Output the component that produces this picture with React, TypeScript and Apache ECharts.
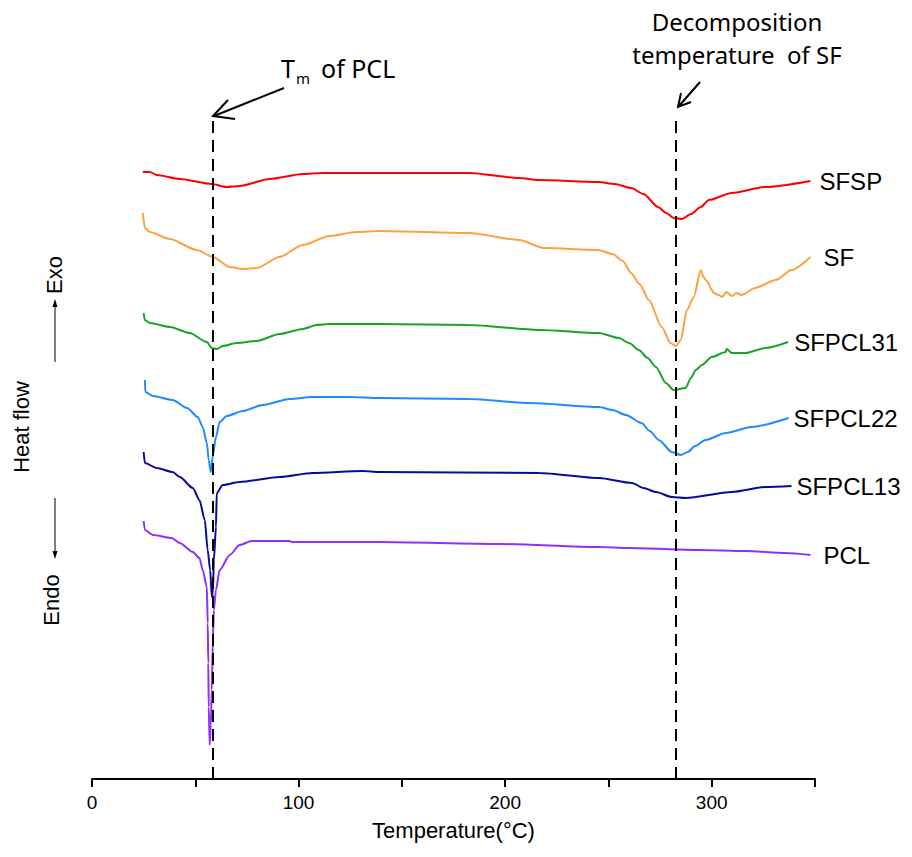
import React, { useEffect, useRef } from "react";
import * as echarts from "echarts";

// Temperature (°C) vs heat flow (arbitrary units, curves offset vertically)
const sfsp: [number, number][] = [
  [24.6, 60.7], [28, 60.7], [31.4, 60.4], [42.5, 60.0], [58, 59.5], [65, 59.2], [71.5, 59.3],
  [86, 60.0], [102, 60.5], [111.6, 60.6], [139, 60.6], [182.6, 60.6], [206.8, 60.1], [216, 59.9],
  [245, 59.7], [253, 59.5], [261, 59.1], [267, 58.5], [274, 57.2], [278, 56.6], [281.6, 56.1],
  [285.5, 56.0], [290, 56.5], [294.7, 57.2], [298.6, 57.9], [309.7, 58.6], [326, 59.2], [347.8, 59.8],
];
const sf: [number, number][] = [
  [24.6, 56.6], [25.6, 55.1], [28, 54.7], [37.7, 54.0], [50.7, 52.9], [58.5, 52.2], [66.7, 51.2],
  [73, 51.0], [79.7, 51.1], [90.8, 52.2], [102, 53.4], [115, 54.3], [128, 54.7], [139, 54.8],
  [182.6, 54.6], [206.8, 53.9], [218.8, 53.1], [245, 52.9], [252, 52.5], [257, 51.8], [261, 50.6],
  [265, 49.5], [269.6, 47.9], [275.8, 45.2], [280, 43.6], [282.6, 43.3], [285, 43.9], [288, 46.9],
  [291.3, 48.2], [294.7, 50.9], [296, 50.2], [298, 49.7], [300, 48.9], [301, 48.6], [303.4, 48.4],
  [305, 48.2], [307, 48.7], [309.7, 48.3], [312, 48.6], [314.5, 48.4], [321, 49.1], [331, 49.9],
  [338.6, 50.9], [347.8, 52.2],
];
const sfpcl31: [number, number][] = [
  [25, 46.6], [25.6, 45.9], [28, 45.6], [37.7, 45.2], [47.3, 44.6], [55.6, 43.7], [58, 43.1],
  [60.4, 43.0], [63.3, 43.3], [70, 43.6], [79.7, 43.8], [90.8, 44.5], [102, 45.0], [108.7, 45.4],
  [115, 45.5], [139, 45.5], [182.6, 45.4], [216.4, 44.9], [245.4, 44.6], [255, 44.1], [260, 43.6],
  [264.7, 42.9], [269, 42.1], [273, 41.2], [277.8, 39.6], [281.6, 38.9], [287.4, 39.1], [289.9, 40.1],
  [292.3, 40.9], [295.2, 41.4], [300, 42.2], [306.8, 42.7], [307.2, 43.0], [309.7, 42.6],
  [316.4, 42.6], [326, 43.1], [337, 43.7],
];
const sfpcl22: [number, number][] = [
  [25.6, 39.9], [25.8, 38.7], [29.5, 38.3], [39, 37.9], [46, 37.1], [51.2, 36.2], [53.6, 35.2],
  [55.6, 33.6], [56.5, 31.9], [57.5, 30.7], [58.5, 32.4], [60, 34.2], [61.8, 35.7], [65.2, 36.3],
  [73, 36.8], [82.6, 37.4], [95.7, 38.0], [106.8, 38.2], [124.6, 38.2], [139, 38.1], [182.6, 38.0],
  [211.6, 37.6], [245.4, 37.2], [252, 36.9], [258.5, 36.4], [266, 35.6], [270, 34.8], [274.4, 33.9],
  [280.7, 32.7], [285, 32.4], [288.4, 32.7], [292, 33.3], [297, 33.9], [306.8, 34.6], [319.3, 35.2],
  [337.2, 36.1],
];
const sfpcl13: [number, number][] = [
  [25, 32.7], [25.6, 31.6], [31.4, 31.1], [39, 30.7], [42.5, 30.2], [48.8, 29.1], [52, 27.9],
  [54.6, 25.9], [56, 22.9], [57.2, 20.9], [58, 18.2], [58.5, 18.6], [59, 21.9], [60, 25.2],
  [60.4, 28.6], [63.3, 29.4], [71.5, 29.7], [90.8, 30.2], [106.8, 30.6], [131, 30.8], [139, 30.7],
  [216.4, 30.6], [245.4, 30.1], [261.4, 29.6], [267, 29.1], [273, 28.7], [280.7, 28.2], [287.4, 28.1],
  [309.7, 28.7], [326, 29.2], [338.6, 29.3],
];
const pcl: [number, number][] = [
  [25, 25.8], [25.6, 24.9], [29.5, 24.4], [38.6, 24.1], [42.5, 23.6], [48.8, 22.7], [52, 22.1],
  [53.6, 20.9], [55.6, 19.2], [56, 15.6], [56.3, 11.6], [56.5, 7.2], [57, 3.4], [57.5, 5.4],
  [58, 8.9], [58.5, 13.9], [59, 16.9], [60, 18.9], [61.8, 20.9], [66.7, 22.4], [71.5, 23.4],
  [77.3, 23.8], [95.7, 23.8], [96.6, 23.7], [139, 23.7], [197, 23.5], [245.4, 23.2], [260, 23.1],
  [293.7, 22.9], [316.4, 22.8], [335.7, 22.6], [347.8, 22.4],
];

const seriesNames = ["SFSP", "SF", "SFPCL31", "SFPCL22", "SFPCL13", "PCL"];
const seriesColors = ["#ff0000", "#ffa040", "#1aa32a", "#1e8cff", "#0a0a99", "#9030ff"];
const labelGaps = [9, 13, 6, 5, 5, 13];
const seriesData = [sfsp, sf, sfpcl31, sfpcl22, sfpcl13, pcl];

const tmPCL = 58.5;
const tDecomp = 282.5;
const markTop = 66.1;
const xTicks = [0, 100, 200, 300];

export default function App() {
  const ref = useRef<HTMLDivElement>(null);
  useEffect(() => {
    if (!ref.current) return;
    document.body.style.margin = "0";
    const chart = echarts.init(ref.current, null, { renderer: "svg" });
    const labelFont = "'Liberation Sans', Arial, sans-serif";
    const annFont = "'Noto Sans', sans-serif";
    const series: any[] = seriesNames.map((name, i) => ({
      name,
      type: "line",
      data: seriesData[i],
      showSymbol: false,
      symbol: "none",
      smooth: 0.25,
      smoothMonotone: "x",
      lineStyle: { color: seriesColors[i], width: 2 },
      itemStyle: { color: seriesColors[i] },
      z: 3,
      endLabel: {
        show: true,
        formatter: name,
        color: "#000",
        fontSize: 24,
        fontFamily: labelFont,
        distance: labelGaps[i],
      },
    }));
    series.push({
      type: "line",
      data: [],
      silent: true,
      z: 4,
      markLine: {
        silent: true,
        symbol: "none",
        label: { show: false },
        lineStyle: { color: "#000", width: 2, type: [12, 7] },
        data: [
          [{ coord: [tmPCL, 0] }, { coord: [tmPCL, markTop] }],
          [{ coord: [tDecomp, 0] }, { coord: [tDecomp, markTop - 0.3] }],
        ],
      },
    });
    const blk = { stroke: "#000", lineWidth: 2, fill: "none" };
    chart.setOption({
      animation: false,
      backgroundColor: "#fff",
      grid: { left: 92, right: 97, top: 100, bottom: 78, containLabel: false },
      xAxis: {
        type: "value",
        min: 0,
        max: 350,
        interval: 50,
        name: "Temperature(°C)",
        nameLocation: "middle",
        nameGap: 40,
        nameTextStyle: { fontSize: 22, color: "#000", fontFamily: "'Liberation Sans Narrow', 'Liberation Sans', sans-serif" },
        axisLine: { lineStyle: { color: "#000", width: 2 } },
        axisTick: { show: true, inside: false, length: 8, lineStyle: { color: "#000", width: 2 } },
        axisLabel: {
          color: "#000",
          fontSize: 19,
          margin: 14,
          fontFamily: "'Liberation Sans Narrow', 'Liberation Sans', sans-serif",
          formatter: (v: number) => (xTicks.includes(v) ? String(v) : ""),
        },
        splitLine: { show: false },
      },
      yAxis: { type: "value", min: 0, max: 67.9, show: false },
      series,
      graphic: [
        // Tm annotation
        { type: "text", x: 281, y: 68, style: { text: "T", fontSize: 25, fontFamily: annFont, fill: "#000", verticalAlign: "middle" } },
        { type: "text", x: 296, y: 78, style: { text: "m", fontSize: 15, fontFamily: annFont, fill: "#000", verticalAlign: "middle" } },
        { type: "text", x: 321, y: 68, style: { text: "of PCL", fontSize: 25, fontFamily: annFont, fill: "#000", verticalAlign: "middle" } },
        { type: "line", shape: { x1: 284, y1: 88, x2: 214, y2: 116 }, style: blk },
        { type: "polyline", shape: { points: [[228, 100], [213, 116], [235, 119]] }, style: blk },
        // Decomposition annotation
        { type: "text", x: 737, y: 21, style: { text: "Decomposition", fontSize: 24, fontFamily: annFont, fill: "#000", align: "center", verticalAlign: "middle" } },
        { type: "text", x: 737, y: 54, style: { text: "temperature  of SF", fontSize: 24, fontFamily: annFont, fill: "#000", align: "center", verticalAlign: "middle" } },
        { type: "line", shape: { x1: 700, y1: 82, x2: 679, y2: 106 }, style: blk },
        { type: "polyline", shape: { points: [[681, 93], [678, 107], [691, 102]] }, style: blk },
        // Left heat-flow labels
        { type: "text", x: 54, y: 275, rotation: Math.PI / 2, style: { text: "Exo", fontSize: 22, fontFamily: labelFont, fill: "#000", align: "center", verticalAlign: "middle" } },
        { type: "text", x: 21, y: 427, rotation: Math.PI / 2, style: { text: "Heat flow", fontSize: 22, fontFamily: labelFont, fill: "#000", align: "center", verticalAlign: "middle" } },
        { type: "text", x: 51, y: 600, rotation: Math.PI / 2, style: { text: "Endo", fontSize: 22, fontFamily: labelFont, fill: "#000", align: "center", verticalAlign: "middle" } },
        { type: "line", shape: { x1: 55, y1: 362, x2: 55, y2: 305 }, style: { stroke: "#000", lineWidth: 1 } },
        { type: "polygon", shape: { points: [[55, 299], [52.5, 307], [57.5, 307]] }, style: { fill: "#000" } },
        { type: "line", shape: { x1: 55, y1: 498, x2: 55, y2: 553 }, style: { stroke: "#000", lineWidth: 1 } },
        { type: "polygon", shape: { points: [[55, 559], [52.5, 551], [57.5, 551]] }, style: { fill: "#000" } },
      ],
    });
    return () => chart.dispose();
  }, []);
  return <div ref={ref} style={{ width: 912, height: 857 }} />;
}
